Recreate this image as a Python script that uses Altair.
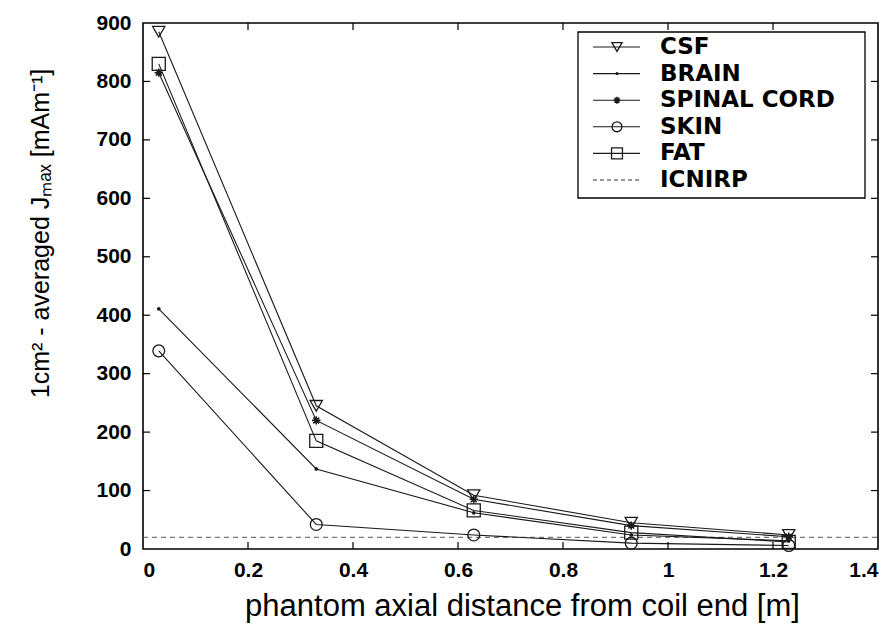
import altair as alt
import pandas as pd

# Axial positions along the phantom [m]
distance = [0.03, 0.33, 0.63, 0.93, 1.23]

# 1 cm^2-averaged maximum current density per tissue [mA/m^2]
csf = [885, 245, 92, 45, 24]
brain = [411, 137, 62, 24, 14]
spinal_cord = [815, 220, 85, 40, 21]
skin = [339, 42, 24, 10, 6]
fat = [830, 185, 66, 28, 12]

icnirp_level = 20

series_names = ["CSF", "BRAIN", "SPINAL CORD", "SKIN", "FAT"]
series_values = [csf, brain, spinal_cord, skin, fat]

x_ticks = [0, 0.2, 0.4, 0.6, 0.8, 1.0, 1.2, 1.4]
y_ticks = [0, 100, 200, 300, 400, 500, 600, 700, 800, 900]

W, H = 735, 526
INK = "#1a1a1a"

rows = []
for name, vals in zip(series_names, series_values):
    for d, v in zip(distance, vals):
        rows.append({"tissue": name, "distance": d, "J": v})
df = pd.DataFrame(rows)

xscale = alt.Scale(domain=[0, 1.4], nice=False, zero=False)
yscale = alt.Scale(domain=[0, 900], nice=False)

x_axis = alt.Axis(
    values=x_ticks, labelExpr="format(datum.value, '~g')", grid=False, domain=False,
    ticks=False, labelFontSize=21, labelFontWeight="bold", labelFont="Liberation Sans",
    labelColor="#000", labelPadding=10,
    title="phantom axial distance from coil end [m]", titleFontSize=31,
    titleFont="Liberation Sans", titleFontWeight="normal", titleColor="#000",
    titleX=379, titleY=57, titleBaseline="middle", titleAlign="center",
)
y_axis = alt.Axis(
    values=y_ticks, grid=False, domain=False, ticks=False, labelFontSize=21,
    labelFontWeight="bold", labelFont="Liberation Sans", labelColor="#000", labelPadding=12,
    title="1cm² - averaged Jₘₐₓ [mAm⁻¹]", titleFontSize=25, titleFont="Liberation Sans",
    titleFontWeight="normal", titleColor="#000", titleAngle=270, titleX=-103, titleY=210,
    titleBaseline="middle", titleAlign="center",
)

base = alt.Chart(df)

lines = base.mark_line(color=INK, strokeWidth=1.1).encode(
    x=alt.X("distance:Q", scale=xscale, axis=x_axis),
    y=alt.Y("J:Q", scale=yscale, axis=y_axis),
    detail="tissue:N",
)

ASTERISK = "M-1,0L1,0M0,-1L0,1M-0.7,-0.7L0.7,0.7M-0.7,0.7L0.7,-0.7"
marker_style = {
    "CSF": dict(shape="triangle-down", size=150, filled=False, strokeWidth=1.3),
    "BRAIN": dict(shape="circle", size=14, filled=True, strokeWidth=1),
    "SPINAL CORD": dict(shape=ASTERISK, size=70, filled=False, strokeWidth=1.6),
    "SKIN": dict(shape="circle", size=140, filled=False, strokeWidth=1.3),
    "FAT": dict(shape="square", size=170, filled=False, strokeWidth=1.3),
}

marker_layers = []
for name in series_names:
    st = marker_style[name]
    marker_layers.append(
        base.transform_filter(alt.datum.tissue == name)
        .mark_point(color=INK, opacity=1, **st)
        .encode(x=alt.X("distance:Q", scale=xscale), y=alt.Y("J:Q", scale=yscale))
    )

icnirp = alt.Chart(pd.DataFrame({"J": [icnirp_level]})).mark_rule(
    color="#555", strokeDash=[5, 4], strokeWidth=1
).encode(y=alt.Y("J:Q", scale=yscale), x=alt.value(0), x2=alt.value(W))

# Inward-pointing box ticks on all four sides
TL = 7
xt = pd.DataFrame({"v": x_ticks[1:-1]})
yt = pd.DataFrame({"v": y_ticks[1:-1]})
tick_style = dict(color="#000", strokeWidth=1.2)
ticks = [
    alt.Chart(xt).mark_rule(**tick_style).encode(
        x=alt.X("v:Q", scale=xscale), y=alt.value(H), y2=alt.value(H - TL)),
    alt.Chart(xt).mark_rule(**tick_style).encode(
        x=alt.X("v:Q", scale=xscale), y=alt.value(0), y2=alt.value(TL)),
    alt.Chart(yt).mark_rule(**tick_style).encode(
        y=alt.Y("v:Q", scale=yscale), x=alt.value(0), x2=alt.value(TL)),
    alt.Chart(yt).mark_rule(**tick_style).encode(
        y=alt.Y("v:Q", scale=yscale), x=alt.value(W), x2=alt.value(W - TL)),
]

# Legend box drawn inside the plot area
leg_names = series_names + ["ICNIRP"]
LX0, LX1, LY0, LY1 = 435, 722, 9, 175
ROW0, ROWH = 24, 26.6
leg = pd.DataFrame({
    "name": leg_names,
    "ly": [ROW0 + i * ROWH for i in range(len(leg_names))],
})

legend_box = alt.Chart(pd.DataFrame({"a": [0]})).mark_rect(
    fill="white", stroke="#000", strokeWidth=1.3
).encode(x=alt.value(LX0), x2=alt.value(LX1), y=alt.value(LY0), y2=alt.value(LY1))

legend_lines = alt.Chart(leg).transform_filter(alt.datum.name != "ICNIRP").mark_rule(
    color=INK, strokeWidth=1.1
).encode(y=alt.Y("ly:Q", scale=None), x=alt.value(450), x2=alt.value(497))

legend_dash = alt.Chart(leg).transform_filter(alt.datum.name == "ICNIRP").mark_rule(
    color="#333", strokeDash=[4, 3], strokeWidth=1
).encode(y=alt.Y("ly:Q", scale=None), x=alt.value(450), x2=alt.value(497))

legend_markers = []
for name in series_names:
    st = dict(marker_style[name])
    st["size"] = st["size"] * 0.7
    legend_markers.append(
        alt.Chart(leg).transform_filter(alt.datum.name == name)
        .mark_point(color=INK, opacity=1, **st)
        .encode(y=alt.Y("ly:Q", scale=None), x=alt.value(474))
    )

legend_text = alt.Chart(leg).mark_text(
    align="left", baseline="middle", font="DejaVu Sans", fontSize=23,
    fontWeight="bold", color="#000",
).encode(y=alt.Y("ly:Q", scale=None), x=alt.value(517), text="name:N")

chart = alt.layer(
    icnirp, lines, *marker_layers, *ticks,
    legend_box, legend_lines, legend_dash, *legend_markers, legend_text,
).properties(
    width=W, height=H,
    autosize=alt.AutoSizeParams(type="none"),
    padding={"left": 143, "top": 23, "right": 12, "bottom": 83},
    background="white",
).configure_view(stroke="#000", strokeWidth=1.6)

chart.save("out.html", embed_options={"renderer": "svg", "actions": False})
